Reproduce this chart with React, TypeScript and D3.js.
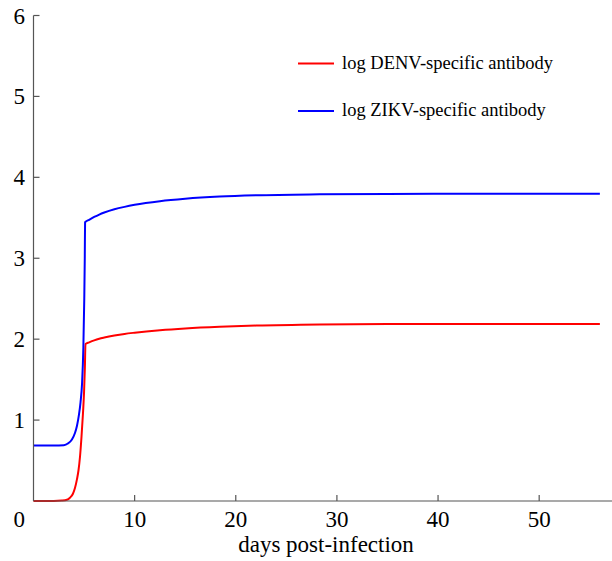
import React, { useEffect } from "react";
import * as d3 from "d3";

// Model output: log antibody titres over days post-infection
const denvDays = [0, 2, 2.8, 3.3, 3.6, 3.9, 4.1, 4.3, 4.45, 4.6, 4.75, 4.9, 5.0, 5.08, 5.14, 5.5, 6.0, 6.5, 7.0, 8.0, 9.0, 10, 12.5, 15, 18.4, 22, 28.3, 35, 45, 56];
const denvValues = [0.0, 0.0, 0.005, 0.015, 0.04, 0.09, 0.16, 0.27, 0.38, 0.55, 0.8, 1.1, 1.35, 1.65, 1.94, 1.96, 1.985, 2.005, 2.02, 2.045, 2.065, 2.08, 2.11, 2.132, 2.153, 2.168, 2.182, 2.187, 2.188, 2.188];

const zikvDays = [0, 2, 3.0, 3.4, 3.8, 4.1, 4.3, 4.5, 4.65, 4.8, 4.93, 5.02, 5.07, 5.1, 5.5, 6.0, 6.5, 7.0, 8.0, 9.0, 10, 12.5, 15, 18.4, 22, 28.3, 35, 45, 56];
const zikvValues = [0.686, 0.686, 0.69, 0.71, 0.76, 0.84, 0.93, 1.07, 1.22, 1.45, 1.9, 2.5, 3.0, 3.445, 3.475, 3.51, 3.54, 3.565, 3.605, 3.635, 3.66, 3.705, 3.735, 3.762, 3.778, 3.79, 3.795, 3.797, 3.797];

const xTicks = [10, 20, 30, 40, 50];
const yTicks = [1, 2, 3, 4, 5, 6];
const seriesNames = ["log DENV-specific antibody", "log ZIKV-specific antibody"];
const seriesColors = ["#ff0000", "#0000ff"];

const W = 612;
const H = 561;
const axisColor = "#555";
const font = "'Liberation Serif', 'Times New Roman', serif";

export default function App() {
  useEffect(() => {
    document.body.style.margin = "0";
  }, []);

  const x = d3.scaleLinear().domain([0, 57.2]).range([33.5, 612]);
  const y = d3.scaleLinear().domain([0, 6]).range([501, 15.5]);

  const line = d3
    .line<[number, number]>()
    .x((d) => x(d[0]))
    .y((d) => y(d[1]))
    .curve(d3.curveMonotoneX);

  const denv = denvDays.map((d, i) => [d, denvValues[i]] as [number, number]);
  const zikv = zikvDays.map((d, i) => [d, zikvValues[i]] as [number, number]);
  const series = [denv, zikv];

  const legendY = [63.5, 111];

  return (
    <svg width={W} height={H} style={{ display: "block", background: "#fff" }}>
      <rect x={0} y={0} width={W} height={H} fill="#fff" />
      {series.map((s, i) => (
        <path key={i} d={line(s) ?? ""} fill="none" stroke={seriesColors[i]} strokeWidth={2} />
      ))}

      {/* axes */}
      <line x1={x(0)} x2={x(0)} y1={y(6)} y2={y(0)} stroke={axisColor} strokeWidth={1.2} />
      <line x1={x(0)} x2={W} y1={y(0)} y2={y(0)} stroke={axisColor} strokeWidth={1.2} />
      {yTicks.map((t) => (
        <g key={"y" + t}>
          <line x1={x(0)} x2={x(0) + 6} y1={y(t)} y2={y(t)} stroke={axisColor} strokeWidth={1.2} />
          <text x={25} y={y(t)} dy="0.35em" textAnchor="end" fontFamily={font} fontSize={23} fill="#000">
            {t}
          </text>
        </g>
      ))}
      {xTicks.map((t) => (
        <g key={"x" + t}>
          <line x1={x(t)} x2={x(t)} y1={y(0)} y2={y(0) - 6} stroke={axisColor} strokeWidth={1.2} />
          <text x={x(t)} y={527} textAnchor="middle" fontFamily={font} fontSize={23} fill="#000">
            {t}
          </text>
        </g>
      ))}
      <text x={25} y={527} textAnchor="end" fontFamily={font} fontSize={23} fill="#000">
        0
      </text>
      <text x={326} y={552} textAnchor="middle" fontFamily={font} fontSize={23} fill="#000">
        days post-infection
      </text>

      {/* legend */}
      {seriesNames.map((name, i) => (
        <g key={name}>
          <line x1={298} x2={334} y1={legendY[i]} y2={legendY[i]} stroke={seriesColors[i]} strokeWidth={2} />
          <text x={342} y={legendY[i] + 5} fontFamily={font} fontSize={18.5} fill="#000">
            {name}
          </text>
        </g>
      ))}
    </svg>
  );
}
